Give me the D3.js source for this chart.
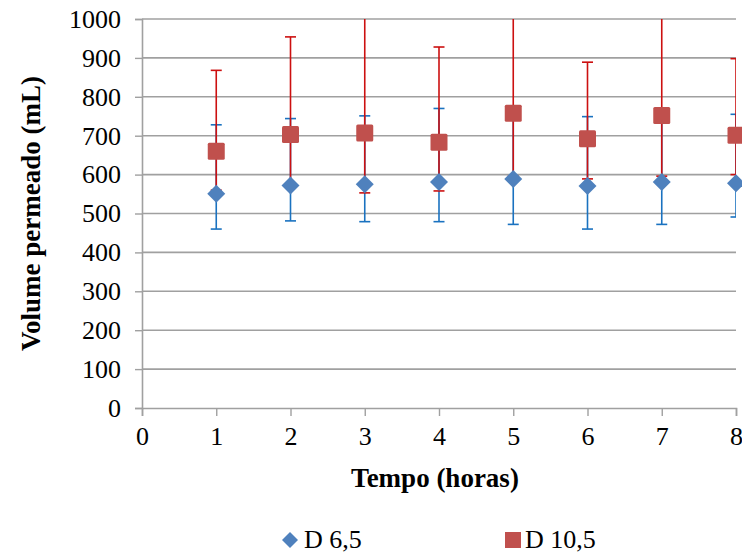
<!DOCTYPE html>
<html><head><meta charset="utf-8">
<script src="https://cdn.jsdelivr.net/npm/d3@7"></script>
<style>body{margin:0;background:#fff}svg{display:block}</style>
</head><body>
<script>
const hours = [1, 2, 3, 4, 5, 6, 7, 8];
const d65 = [551, 572, 575, 581, 589, 571, 581, 578];
const d65Low = [460, 481, 479, 479, 472, 460, 472, 491];
const d65High = [728, 744, 751, 770, 760, 749, 750, 755];
const d105 = [660, 703, 707, 683, 758, 692, 752, 701];
const d105Low = [560, 570, 553, 558, 596, 589, 596, 600];
const d105High = [868, 954, 1050, 928, 1050, 889, 1050, 898];
const xTicks = [0, 1, 2, 3, 4, 5, 6, 7, 8];
const yTicks = [0, 100, 200, 300, 400, 500, 600, 700, 800, 900, 1000];
const seriesNames = ["D 6,5", "D 10,5"];

const FONT = '"Liberation Serif", "Times New Roman", Tinos, serif';
const W = 742, H = 553;
const m = {left: 142, top: 19, right: 6, bottom: 145};
const iw = W - m.left - m.right, ih = H - m.top - m.bottom;
const svg = d3.select("body").append("svg").attr("width", W).attr("height", H);
const x = d3.scaleLinear().domain([0, 8]).range([0, iw]);
const y = d3.scaleLinear().domain([0, 1000]).range([ih, 0]);
const g = svg.append("g").attr("transform", `translate(${m.left},${m.top})`);

svg.append("defs").append("clipPath").attr("id", "pc")
  .append("rect").attr("x", 0).attr("y", 0).attr("width", iw).attr("height", ih);

// gridlines
g.append("g").selectAll("line").data(yTicks.filter(d => d > 0)).join("line")
  .attr("x1", 0).attr("x2", iw).attr("y1", d => y(d)).attr("y2", d => y(d))
  .attr("stroke", "#a0a0a0").attr("stroke-width", 1.6);

// axes
const yAxis = g.append("g").call(d3.axisLeft(y).tickValues(yTicks).tickFormat(d3.format("d")).tickSize(7).tickPadding(14));
const xAxis = g.append("g").attr("transform", `translate(0,${ih})`)
  .call(d3.axisBottom(x).tickValues(xTicks).tickFormat(d3.format("d")).tickSize(8).tickPadding(11));
[yAxis, xAxis].forEach(a => {
  a.select(".domain").attr("stroke", "#a0a0a0").attr("stroke-width", 1.6);
  a.selectAll(".tick line").attr("stroke", "#a0a0a0").attr("stroke-width", 1.4);
  a.selectAll("text").style("font-family", FONT).style("font-size", "26px").attr("fill", "#000");
});

const series = [
  {v: d65, lo: d65Low, hi: d65High, err: "#1a72c0", fill: "#4f81bd", shape: "diamond"},
  {v: d105, lo: d105Low, hi: d105High, err: "#cc1010", fill: "#c0504d", shape: "square"}
];
const cap = 5.5;
const eg = g.append("g").attr("clip-path", "url(#pc)");
series.forEach(s => {
  const pts = hours.map((h, i) => ({h, lo: s.lo[i], hi: s.hi[i]}));
  const sg = eg.append("g").attr("stroke", s.err).attr("stroke-width", 1.6);
  sg.selectAll(".v").data(pts).join("line")
    .attr("x1", d => x(d.h)).attr("x2", d => x(d.h))
    .attr("y1", d => y(d.lo)).attr("y2", d => y(d.hi));
  sg.selectAll(".t").data(pts).join("line")
    .attr("x1", d => x(d.h) - cap).attr("x2", d => x(d.h) + cap)
    .attr("y1", d => y(d.hi)).attr("y2", d => y(d.hi));
  sg.selectAll(".b").data(pts).join("line")
    .attr("x1", d => x(d.h) - cap).attr("x2", d => x(d.h) + cap)
    .attr("y1", d => y(d.lo)).attr("y2", d => y(d.lo));
});

function marker(sel, shape, fill) {
  if (shape === "diamond") {
    sel.append("path").attr("d", "M0,-9L9,0L0,9L-9,0Z").attr("fill", fill);
  } else {
    sel.append("rect").attr("x", -8.5).attr("y", -8.5).attr("width", 17).attr("height", 17)
      .attr("rx", 1.5).attr("fill", fill);
  }
}
series.forEach(s => {
  hours.forEach((h, i) => {
    const mk = g.append("g").attr("transform", `translate(${x(h)},${y(s.v[i])})`);
    marker(mk, s.shape, s.fill);
  });
});

// axis titles
svg.append("text").attr("x", m.left + iw / 2 - 4).attr("y", 487).attr("text-anchor", "middle")
  .style("font-family", FONT).style("font-weight", "bold").style("font-size", "27px").text("Tempo (horas)");
svg.append("text").attr("transform", `translate(40,${m.top + ih / 2}) rotate(-90)`)
  .attr("text-anchor", "middle").style("font-family", FONT).style("font-weight", "bold")
  .style("font-size", "27px").text("Volume permeado (mL)");

// legend
const legPos = [{mx: 290, tx: 304}, {mx: 513, tx: 525}];
series.forEach((s, i) => {
  const lg = svg.append("g").attr("transform", `translate(${legPos[i].mx},540)`);
  if (s.shape === "diamond") lg.append("path").attr("d", "M0,-8L8,0L0,8L-8,0Z").attr("fill", s.fill);
  else lg.append("rect").attr("x", -8).attr("y", -8).attr("width", 16).attr("height", 16).attr("fill", s.fill);
  svg.append("text").attr("x", legPos[i].tx).attr("y", 548)
    .style("font-family", FONT).style("font-size", "26px").text(seriesNames[i]);
});
</script>
</body></html>
